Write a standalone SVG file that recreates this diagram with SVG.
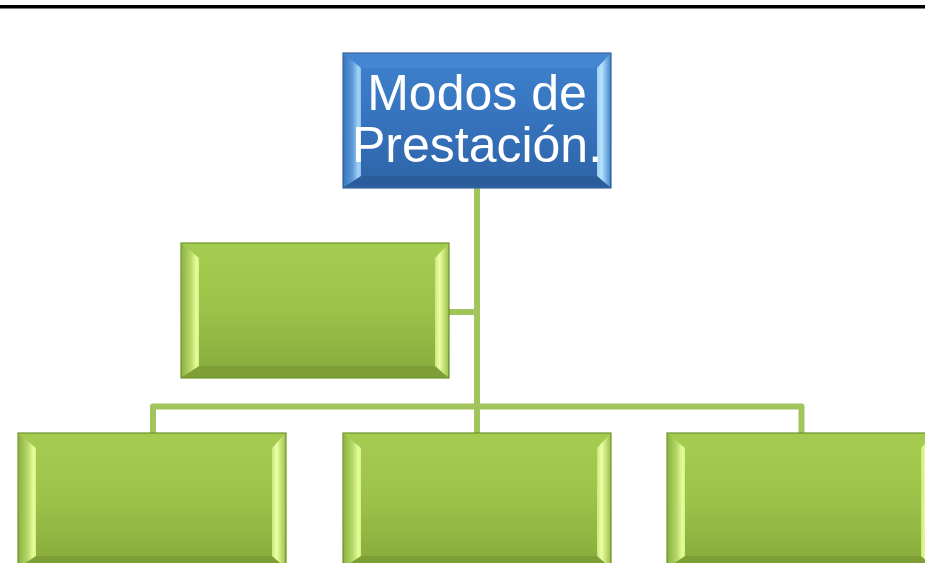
<svg xmlns="http://www.w3.org/2000/svg" width="925" height="563" viewBox="0 0 925 563">
  <style>
    .conn { fill: none; stroke: #a2c45c; stroke-width: 6; stroke-linejoin: round; }
    .title { font-family: "Liberation Sans", Arial, sans-serif; font-size: 50px; fill: #ffffff; text-anchor: middle; }
  </style>
  <defs>
    <linearGradient id="gBody" x1="0" y1="0" x2="0" y2="1">
      <stop offset="0" stop-color="#a6cd50"/>
      <stop offset="0.5" stop-color="#9cc249"/>
      <stop offset="1" stop-color="#86aa3b"/>
    </linearGradient>
    <linearGradient id="gLeft" x1="0" y1="0" x2="1" y2="0">
      <stop offset="0" stop-color="#90b442"/>
      <stop offset="0.5" stop-color="#b4d868"/>
      <stop offset="0.85" stop-color="#e6fd9a"/>
      <stop offset="1" stop-color="#d4f284"/>
    </linearGradient>
    <linearGradient id="gRight" x1="0" y1="0" x2="1" y2="0">
      <stop offset="0" stop-color="#c8e878"/>
      <stop offset="0.35" stop-color="#ecffa4"/>
      <stop offset="1" stop-color="#a2c64e"/>
    </linearGradient>
    <linearGradient id="bBody" x1="0" y1="0" x2="0" y2="1">
      <stop offset="0" stop-color="#3f82ce"/>
      <stop offset="0.5" stop-color="#3673bd"/>
      <stop offset="1" stop-color="#2e63a7"/>
    </linearGradient>
    <linearGradient id="bLeft" x1="0" y1="0" x2="1" y2="0">
      <stop offset="0" stop-color="#3a78c0"/>
      <stop offset="0.5" stop-color="#5d9ad8"/>
      <stop offset="0.85" stop-color="#a4d4f6"/>
      <stop offset="1" stop-color="#8cc0ec"/>
    </linearGradient>
    <linearGradient id="bRight" x1="0" y1="0" x2="1" y2="0">
      <stop offset="0" stop-color="#9ccff4"/>
      <stop offset="0.35" stop-color="#b8e4fb"/>
      <stop offset="1" stop-color="#4a8cd2"/>
    </linearGradient>
    <g id="greenBox">
      <rect x="0" y="0" width="268" height="135" fill="url(#gBody)" stroke="#6f922e" stroke-width="1.2"/>
      <polygon points="1,1 267,1 254,15 18,15" fill="#a3cb4f"/>
      <polygon points="1,134 267,134 254,123 18,123" fill="#7d9f35"/>
      <polygon points="1,1 18,15 18,123 1,134" fill="url(#gLeft)"/>
      <polygon points="267,1 267,134 254,123 254,15" fill="url(#gRight)"/>
    </g>
    <g id="blueBox">
      <rect x="0" y="0" width="268" height="135" fill="url(#bBody)" stroke="#3a659c" stroke-width="1.2"/>
      <polygon points="1,1 267,1 254,15 18,15" fill="#4586d2"/>
      <polygon points="1,134 267,134 254,123 18,123" fill="#2b5c9b"/>
      <polygon points="1,1 18,15 18,123 1,134" fill="url(#bLeft)"/>
      <polygon points="267,1 267,134 254,123 254,15" fill="url(#bRight)"/>
    </g>
  </defs>

  <rect x="0" y="0" width="925" height="563" fill="#ffffff"/>
  <rect x="0" y="5" width="925" height="3.5" fill="#000000"/>

  <g id="connectors">
    <path class="conn" d="M477,188 V433"/>
    <path class="conn" d="M449,312 H477"/>
    <path class="conn" d="M153,433 V406.5 H801.5 V433"/>
  </g>

  <g id="node-top">
    <use href="#blueBox" transform="translate(343,53)"/>
    <text class="title" x="477" y="110">Modos de</text>
    <text class="title" x="477" y="162">Prestación.</text>
  </g>
  <g id="node-assistant">
    <use href="#greenBox" transform="translate(181,243)"/>
  </g>
  <g id="node-left">
    <use href="#greenBox" transform="translate(18,433)"/>
  </g>
  <g id="node-middle">
    <use href="#greenBox" transform="translate(343,433)"/>
  </g>
  <g id="node-right">
    <use href="#greenBox" transform="translate(667,433)"/>
  </g>
</svg>
